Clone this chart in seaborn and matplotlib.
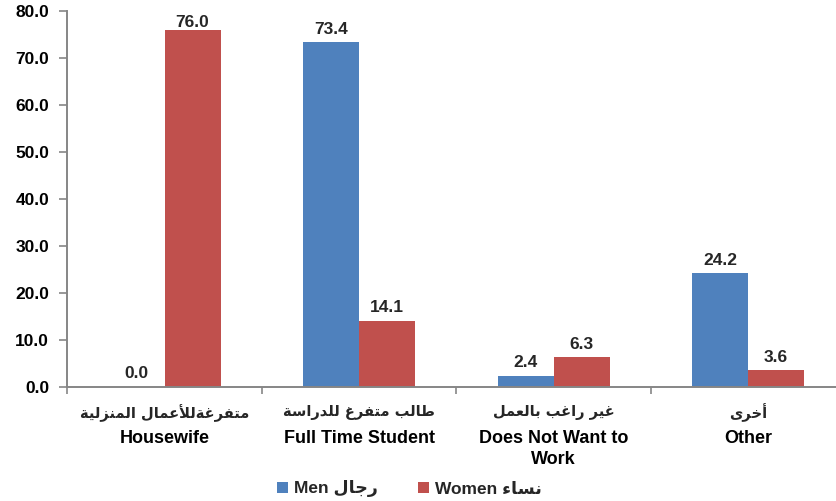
import matplotlib
matplotlib.use("Agg")
import matplotlib.pyplot as plt
import matplotlib.transforms as mtransforms
import seaborn as sns
import pandas as pd

# ---------------- data ----------------
categories_en = ["Housewife", "Full Time Student", "Does Not Want to\nWork", "Other"]
categories_ar = ["متفرغةللأعمال المنزلية", "طالب متفرغ للدراسة", "غير راغب بالعمل", "أخرى"]
series_en = ["Men", "Women"]
series_ar = ["رجال", "نساء"]
men = [0.0, 73.4, 2.4, 24.2]
women = [76.0, 14.1, 6.3, 3.6]
y_ticks = [0, 10, 20, 30, 40, 50, 60, 70, 80]

BLUE = "#4F81BD"
RED = "#C0504D"
AXIS = "#868686"


# ------------- minimal Arabic shaping (presentation forms, visual order) -------------
def shape_arabic(s):
    forms = {
        'ء': ('\uFE80',),
        'أ': ('\uFE83', '\uFE84'),
        'ا': ('\uFE8D', '\uFE8E'),
        'ب': ('\uFE8F', '\uFE90', '\uFE91', '\uFE92'),
        'ة': ('\uFE93', '\uFE94'),
        'ت': ('\uFE95', '\uFE96', '\uFE97', '\uFE98'),
        'ج': ('\uFE9D', '\uFE9E', '\uFE9F', '\uFEA0'),
        'خ': ('\uFEA5', '\uFEA6', '\uFEA7', '\uFEA8'),
        'د': ('\uFEA9', '\uFEAA'),
        'ر': ('\uFEAD', '\uFEAE'),
        'ز': ('\uFEAF', '\uFEB0'),
        'س': ('\uFEB1', '\uFEB2', '\uFEB3', '\uFEB4'),
        'ط': ('\uFEC1', '\uFEC2', '\uFEC3', '\uFEC4'),
        'ع': ('\uFEC9', '\uFECA', '\uFECB', '\uFECC'),
        'غ': ('\uFECD', '\uFECE', '\uFECF', '\uFED0'),
        'ف': ('\uFED1', '\uFED2', '\uFED3', '\uFED4'),
        'ل': ('\uFEDD', '\uFEDE', '\uFEDF', '\uFEE0'),
        'م': ('\uFEE1', '\uFEE2', '\uFEE3', '\uFEE4'),
        'ن': ('\uFEE5', '\uFEE6', '\uFEE7', '\uFEE8'),
        'ى': ('\uFEEF', '\uFEF0'),
        'ي': ('\uFEF1', '\uFEF2', '\uFEF3', '\uFEF4'),
    }
    lam_alef = {'ا': ('\uFEFB', '\uFEFC'), 'أ': ('\uFEF7', '\uFEF8')}

    def dual(c):
        return c in forms and len(forms[c]) == 4

    def joins(c):
        return c in forms and len(forms[c]) >= 2

    chars = list(s)
    n = len(chars)
    out = []
    i = 0
    while i < n:
        c = chars[i]
        if c not in forms:
            out.append(c)
            i += 1
            continue
        prev = chars[i - 1] if i > 0 else None
        jp = prev is not None and dual(prev) and joins(c)
        if c == 'ل' and i + 1 < n and chars[i + 1] in lam_alef:
            out.append(lam_alef[chars[i + 1]][1 if jp else 0])
            i += 2
            continue
        nxt = chars[i + 1] if i + 1 < n else None
        jn = dual(c) and nxt is not None and joins(nxt)
        f = forms[c]
        if jp and jn:
            g = f[3]
        elif jp:
            g = f[1]
        elif jn:
            g = f[2]
        else:
            g = f[0]
        out.append(g)
        i += 1
    return ''.join(reversed(out))


# ---------------- styling ----------------
sns.set_theme(style="white")
FAM = ["Liberation Sans", "DejaVu Sans"]
plt.rcParams["font.family"] = FAM
plt.rcParams["font.weight"] = "bold"

df = pd.DataFrame({
    "category": categories_en * 2,
    "series": [series_en[0]] * len(men) + [series_en[1]] * len(women),
    "value": men + women,
})

fig = plt.figure(figsize=(8.36, 5.01), dpi=100)
ax = fig.add_axes([0.0805, 0.2275, 0.9306, 0.750])

sns.barplot(data=df, x="category", y="value", hue="series",
            order=categories_en, hue_order=series_en,
            palette=[BLUE, RED], saturation=1, width=0.576,
            errorbar=None, ax=ax, legend=False, linewidth=0)

ax.set_xlim(-0.5, len(categories_en) - 0.5)
ax.set_ylim(0, 80)
ax.set_yticks(y_ticks)
ax.set_yticklabels([f"{v:.1f}" for v in y_ticks], fontsize=12.5, fontweight="bold")
ax.set_xlabel("")
ax.set_ylabel("")

# x tick labels (English) at category centres; boundary ticks as minor ticks
ax.set_xticks(range(len(categories_en)))
ax.set_xticklabels(categories_en, fontsize=13, fontweight="bold", linespacing=1.3)
ax.set_xticks([i - 0.5 for i in range(len(categories_en) + 1)], minor=True)
ax.tick_params(axis="x", which="major", length=0, pad=31, colors="black")
ax.tick_params(axis="x", which="minor", length=5, width=1.2, color=AXIS, direction="out")
ax.tick_params(axis="y", which="major", length=6, width=1.2, color=AXIS, pad=7,
               direction="out", labelcolor="black")
ax.tick_params(axis="y", left=True)
ax.tick_params(axis="x", bottom=True, which="minor")

for side in ["top", "right"]:
    ax.spines[side].set_visible(False)
for side in ["left", "bottom"]:
    ax.spines[side].set_color(AXIS)
    ax.spines[side].set_linewidth(1.4)
ax.grid(False)

# Arabic category names above the English ones
trans = mtransforms.blended_transform_factory(ax.transData, ax.transAxes)
for i, name in enumerate(categories_ar):
    ax.annotate(shape_arabic(name), xy=(i, 0), xycoords=trans,
                xytext=(0, -18.5), textcoords="offset points",
                ha="center", va="center", fontsize=10.5, fontweight="bold",
                family=["DejaVu Sans"], annotation_clip=False)

# value labels
ytop = ax.get_ylim()[1]
for cont in ax.containers:
    for p in cont:
        h = p.get_height()
        xc = p.get_x() + p.get_width() / 2
        off = 4 if h < ytop - 6 else 0
        ax.annotate(f"{h:.1f}", xy=(xc, h), xytext=(0, off), textcoords="offset points",
                    ha="center", va="bottom", fontsize=12.5, fontweight="bold")

# legend
handles = [c.patches[0] for c in ax.containers]
labels = [f"{en} {shape_arabic(ar)}" for en, ar in zip(series_en, series_ar)]
fig.legend(handles, labels, loc="center", bbox_to_anchor=(0.49, 0.024), ncol=2,
           frameon=False, prop={"size": 12.5, "weight": "bold", "family": FAM},
           handlelength=0.65, handleheight=0.65, handletextpad=0.35,
           columnspacing=2.3, borderaxespad=0)

fig.savefig("out.png", dpi=100)
